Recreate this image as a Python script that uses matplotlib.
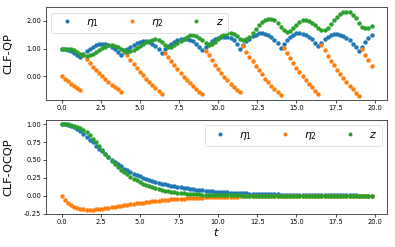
import numpy as np
import matplotlib
matplotlib.use("Agg")
import matplotlib.pyplot as plt

# time grid (sampling instants, step 0.2)
t = np.arange(100) * 0.2

# ---- CLF-QP (top panel) ----
qp_eta1 = [
    1.00, 0.99, 0.96, 0.91, 0.85, 0.78, 0.70,
    0.82, 0.92, 1.00, 1.07, 1.12, 1.15, 1.16, 1.15, 1.12, 1.06, 0.98, 0.88, 0.76,
    0.88, 0.98, 1.07, 1.14, 1.20, 1.24, 1.26, 1.26, 1.23, 1.18, 1.10, 0.99, 0.85,
    0.97, 1.08, 1.17, 1.25, 1.31, 1.35, 1.36, 1.35, 1.32, 1.26, 1.18, 1.07, 0.93,
    1.06, 1.17, 1.26, 1.33, 1.38, 1.41, 1.42, 1.41, 1.37, 1.29, 1.16, 1.00,
    1.14, 1.26, 1.36, 1.44, 1.50, 1.54, 1.55, 1.53, 1.49, 1.42, 1.32, 1.19, 1.03,
    1.17, 1.30, 1.41, 1.49, 1.54, 1.55, 1.53, 1.49, 1.42, 1.33, 1.21, 1.08,
    1.21, 1.33, 1.43, 1.50, 1.53, 1.53, 1.50, 1.45, 1.38, 1.29, 1.18, 1.05, 0.90,
    1.06, 1.22, 1.37, 1.50,
]
qp_eta2 = [
    0.00, -0.09, -0.18, -0.26, -0.34, -0.42, -0.50,
    0.75, 0.61, 0.48, 0.35, 0.23, 0.11, 0.00, -0.10, -0.20, -0.30, -0.39, -0.47, -0.55,
    0.92, 0.76, 0.60, 0.45, 0.30, 0.17, 0.03, -0.09, -0.21, -0.32, -0.43, -0.53, -0.62,
    0.85, 0.69, 0.54, 0.39, 0.25, 0.12, -0.01, -0.13, -0.25, -0.36, -0.46, -0.56, -0.65,
    0.92, 0.75, 0.58, 0.42, 0.27, 0.13, -0.01, -0.14, -0.26, -0.37, -0.48, -0.58,
    1.08, 0.89, 0.71, 0.54, 0.38, 0.22, 0.07, -0.08, -0.21, -0.34, -0.46, -0.57, -0.68,
    1.02, 0.83, 0.65, 0.47, 0.31, 0.15, 0.00, -0.14, -0.28, -0.40, -0.52, -0.63,
    1.12, 0.93, 0.74, 0.56, 0.39, 0.23, 0.07, -0.07, -0.21, -0.35, -0.47, -0.59, -0.70,
    1.00, 0.78, 0.57, 0.36,
]
qp_z = [
    1.00, 1.00, 0.99, 0.97, 0.93, 0.88, 0.82, 0.76, 0.73, 0.75,
    0.81, 0.88, 0.95, 1.02, 1.07, 1.11, 1.12, 1.10, 1.06, 1.00,
    0.93, 0.88, 0.90, 0.96, 1.03, 1.10, 1.17, 1.23, 1.28, 1.32,
    1.33, 1.30, 1.23, 1.12, 1.04, 1.06, 1.12, 1.19, 1.27, 1.35,
    1.42, 1.47, 1.49, 1.46, 1.39, 1.29, 1.19, 1.14, 1.17, 1.25,
    1.35, 1.44, 1.51, 1.55, 1.55, 1.51, 1.44, 1.36, 1.31, 1.33,
    1.42, 1.55, 1.69, 1.83, 1.94, 2.02, 2.07, 2.07, 2.02, 1.92,
    1.79, 1.66, 1.60, 1.63, 1.73, 1.85, 1.95, 2.01, 2.02, 1.99,
    1.92, 1.83, 1.74, 1.68, 1.67, 1.74, 1.87, 2.01, 2.14, 2.25,
    2.31, 2.33, 2.30, 2.22, 2.09, 1.93, 1.78, 1.72, 1.75, 1.80,
]

# ---- CLF-QCQP (bottom panel) ----
qcqp_eta1 = [
    1.000, 0.998, 0.990, 0.975, 0.955, 0.930, 0.900, 0.865, 0.825, 0.785,
    0.745, 0.700, 0.660, 0.620, 0.577, 0.540, 0.505, 0.470, 0.440, 0.410,
    0.380, 0.355, 0.330, 0.310, 0.290, 0.270, 0.252, 0.236, 0.220, 0.206,
    0.193, 0.181, 0.170, 0.159, 0.149, 0.140, 0.131, 0.123, 0.116, 0.109,
    0.102, 0.096, 0.090, 0.085, 0.080, 0.075, 0.071, 0.067, 0.063, 0.059,
    0.056, 0.053, 0.050, 0.047, 0.044, 0.041, 0.039, 0.037, 0.035, 0.033,
    0.031, 0.029, 0.027, 0.025, 0.024, 0.022, 0.021, 0.020, 0.019, 0.018,
    0.017, 0.016, 0.015, 0.014, 0.013, 0.012, 0.011, 0.011, 0.010, 0.009,
    0.009, 0.008, 0.008, 0.007, 0.007, 0.006, 0.006, 0.006, 0.005, 0.005,
    0.005, 0.004, 0.004, 0.004, 0.004, 0.003, 0.003, 0.003, 0.003, 0.003,
]
qcqp_eta2 = [
    0.000, -0.055, -0.095, -0.128, -0.152, -0.170, -0.183, -0.191, -0.195, -0.196,
    -0.195, -0.192, -0.188, -0.183, -0.177, -0.171, -0.164, -0.157, -0.150, -0.143,
    -0.136, -0.129, -0.122, -0.115, -0.108, -0.102, -0.096, -0.090, -0.084, -0.079,
    -0.074, -0.069, -0.064, -0.060, -0.056, -0.052, -0.048, -0.045, -0.042, -0.039,
    -0.036, -0.033, -0.031, -0.029, -0.027, -0.025, -0.023, -0.021, -0.020, -0.018,
    -0.017, -0.016, -0.015, -0.014, -0.013, -0.012, -0.011, -0.010, -0.010, -0.009,
    -0.008, -0.008, -0.007, -0.007, -0.006, -0.006, -0.005, -0.005, -0.005, -0.004,
    -0.004, -0.004, -0.004, -0.003, -0.003, -0.003, -0.003, -0.003, -0.002, -0.002,
    -0.002, -0.002, -0.002, -0.002, -0.002, -0.001, -0.001, -0.001, -0.001, -0.001,
    -0.001, -0.001, -0.001, -0.001, -0.001, -0.001, -0.001, -0.001, -0.001, -0.001,
]
qcqp_z = [
    1.000, 1.000, 0.997, 0.990, 0.980, 0.965, 0.945, 0.920, 0.885, 0.845,
    0.800, 0.750, 0.698, 0.642, 0.588, 0.535, 0.490, 0.448, 0.405, 0.365,
    0.330, 0.298, 0.268, 0.240, 0.215, 0.192, 0.171, 0.152, 0.135, 0.120,
    0.106, 0.094, 0.083, 0.073, 0.065, 0.057, 0.050, 0.044, 0.039, 0.034,
    0.030, 0.026, 0.023, 0.020, 0.018, 0.016, 0.014, 0.012, 0.011, 0.010,
    0.009, 0.008, 0.007, 0.006, 0.005, 0.005, 0.004, 0.004, 0.003, 0.003,
    0.003, 0.002, 0.002, 0.002, 0.002, 0.001, 0.001, 0.001, 0.001, 0.001,
    0.001, 0.001, 0.001, 0.000, 0.000, 0.000, 0.000, 0.000, 0.000, 0.000,
    0.000, 0.000, 0.000, 0.000, 0.000, 0.000, 0.000, 0.000, 0.000, 0.000,
    0.000, 0.000, 0.000, 0.000, 0.000, 0.000, 0.000, 0.000, 0.000, 0.000,
]

labels = [r"$\eta_1$", r"$\eta_2$", r"$z$"]
colors = ["#1f77b4", "#ff7f0e", "#2ca02c"]

TICK_FS = 4.8
LABEL_FS = 8.2
LEG_FS = 7.8
MS = 3.2

fig = plt.figure(figsize=(3.95, 2.47), dpi=100)
ax1 = fig.add_axes([0.1165, 0.5951, 0.8633, 0.3753])
ax2 = fig.add_axes([0.1165, 0.1336, 0.8633, 0.3806])

for ax, series in ((ax1, (qp_eta1, qp_eta2, qp_z)),
                   (ax2, (qcqp_eta1, qcqp_eta2, qcqp_z))):
    for y, lab, c in zip(series, labels, colors):
        ax.plot(t, y, "o", ms=MS, mew=0, color=c, label=lab)
    ax.tick_params(labelsize=TICK_FS, length=2.0, width=0.5, pad=1.5)
    for sp in ax.spines.values():
        sp.set_linewidth(0.6)
        sp.set_edgecolor("#333333")
    ax.set_xticks([0.0, 2.5, 5.0, 7.5, 10.0, 12.5, 15.0, 17.5, 20.0])

ax1.set_yticks([0, 1, 2])
ax1.yaxis.set_major_formatter(matplotlib.ticker.FormatStrFormatter("%.2f"))
ax2.set_yticks([-0.25, 0.0, 0.25, 0.5, 0.75, 1.0])
ax2.yaxis.set_major_formatter(matplotlib.ticker.FormatStrFormatter("%.2f"))

ax1.set_ylabel("CLF-QP", fontsize=LABEL_FS)
ax2.set_ylabel("CLF-QCQP", fontsize=LABEL_FS)
ax1.yaxis.set_label_coords(-0.097, 0.5)
ax2.yaxis.set_label_coords(-0.097, 0.5)
ax2.set_xlabel(r"$t$", fontsize=LABEL_FS, labelpad=0.5)

leg_kw = dict(ncol=3, fontsize=LEG_FS, markerscale=0.9)
l1 = ax1.legend(loc="upper left", **leg_kw)
l2 = ax2.legend(loc="upper right", **leg_kw)
for lg in (l1, l2):
    lg.get_frame().set_linewidth(0.5)

fig.savefig("out.png", dpi=100)
